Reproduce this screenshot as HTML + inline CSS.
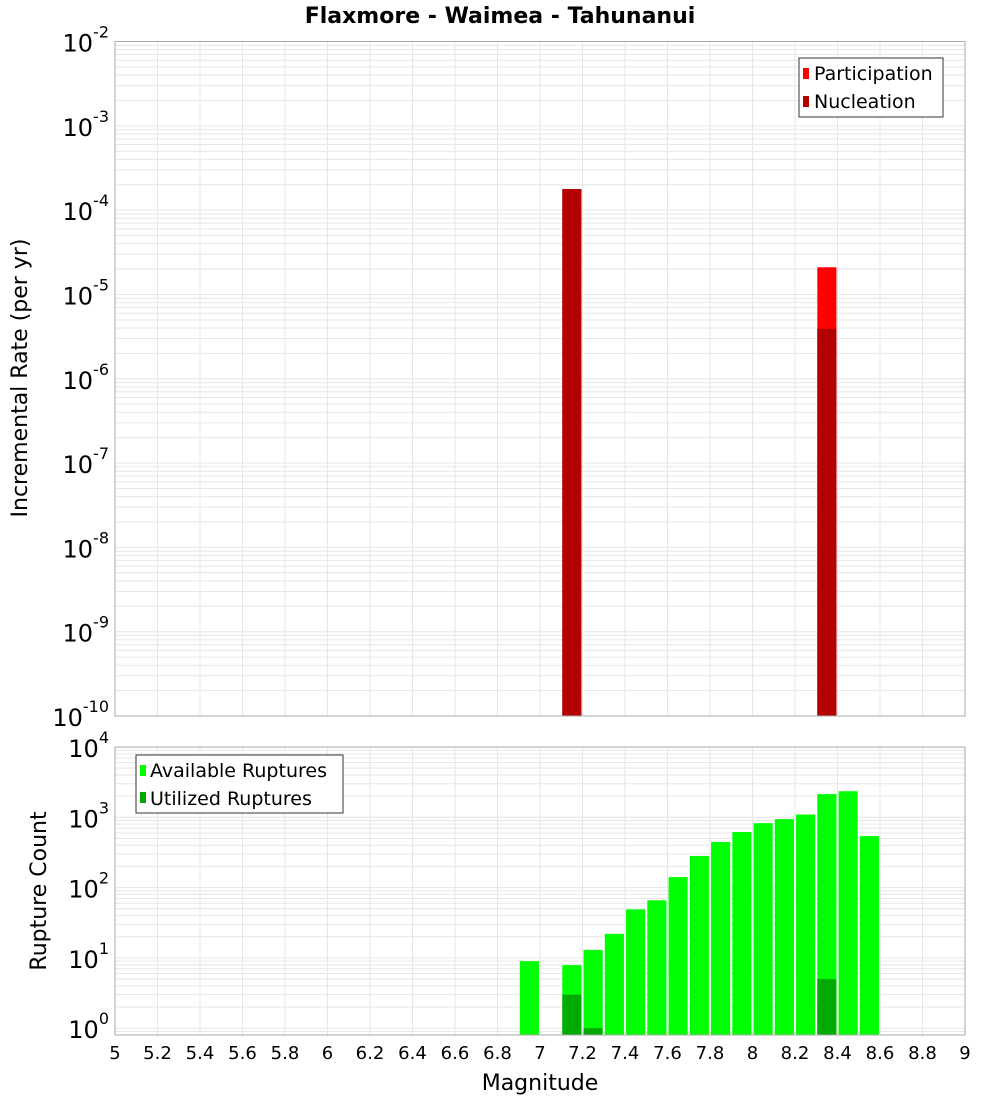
<!DOCTYPE html>
<html><head><meta charset="utf-8">
<style>
html,body{margin:0;padding:0;background:#fff;}
svg{display:block;font-family:"Liberation Sans","DejaVu Sans",sans-serif;}
</style></head>
<body>
<svg id="chart" width="1000" height="1100" xmlns="http://www.w3.org/2000/svg">
<text x="500" y="23" text-anchor="middle" font-size="22" font-weight="bold" font-family="DejaVu Sans, sans-serif">Flaxmore - Waimea - Tahunanui</text>
<g id="topPlot"></g>
<g id="botPlot"></g>
<text transform="translate(27,378) rotate(-90)" text-anchor="middle" font-size="22" font-family="DejaVu Sans, sans-serif">Incremental Rate (per yr)</text>
<text transform="translate(46,891) rotate(-90)" text-anchor="middle" font-size="22" font-family="DejaVu Sans, sans-serif">Rupture Count</text>
<text x="540" y="1090" text-anchor="middle" font-size="22" font-family="DejaVu Sans, sans-serif">Magnitude</text>
<g>
<rect x="799" y="58" width="144" height="59" fill="#fff" stroke="#333" stroke-width="1"/>
<rect x="803" y="68" width="6" height="11" fill="#ff0000"/>
<text x="814" y="80" font-size="19" font-family="DejaVu Sans, sans-serif">Participation</text>
<rect x="803" y="96" width="6" height="11" fill="#b30000"/>
<text x="814" y="108" font-size="19" font-family="DejaVu Sans, sans-serif">Nucleation</text>
</g>
<g>
<rect x="136" y="755" width="207" height="58" fill="#fff" stroke="#333" stroke-width="1"/>
<rect x="140" y="765" width="6" height="11" fill="#00ff00"/>
<text x="150" y="777" font-size="19" font-family="DejaVu Sans, sans-serif">Available Ruptures</text>
<rect x="140" y="792" width="6" height="11" fill="#00aa00"/>
<text x="150" y="805" font-size="19" font-family="DejaVu Sans, sans-serif">Utilized Ruptures</text>
</g>
</svg>
<script>
const rateMags = [7.15, 8.35];
const participation = [1.78e-4, 2.1e-5];
const nucleation = [1.78e-4, 3.9e-6];
const countMags = [6.95,7.15,7.25,7.35,7.45,7.55,7.65,7.75,7.85,7.95,8.05,8.15,8.25,8.35,8.45,8.55];
const available = [9,7.9,13,22,49,66,141,282,445,617,826,944,1095,2140,2350,540];
const utilMags = [7.15,7.25,8.35];
const utilized = [3,1,5];
const xTicks = [5,5.2,5.4,5.6,5.8,6,6.2,6.4,6.6,6.8,7,7.2,7.4,7.6,7.8,8,8.2,8.4,8.6,8.8,9];
const rateExps = [-2,-3,-4,-5,-6,-7,-8,-9,-10];
const countExps = [0,1,2,3,4];

const NS="http://www.w3.org/2000/svg";
const X0=115,X1=965;
function xs(m){return X0+(m-5)/4*(X1-X0);}
const TP={top:41.5,bot:716,lo:-10,hi:-2};
const BP={top:747,bot:1035,lo:Math.log10(0.8),hi:4};
function ys(P,v){const l=Math.log10(v);return P.bot-(l-P.lo)/(P.hi-P.lo)*(P.bot-P.top);}
function mk(tag,at,parent){const e=document.createElementNS(NS,tag);for(const k in at)e.setAttribute(k,at[k]);parent.appendChild(e);return e;}
const bw=(X1-X0)*0.1/4*0.9;

function frame(P,g,exps,name){
  mk('rect',{x:X0,y:P.top,width:X1-X0,height:P.bot-P.top,fill:'#fff'},g);
  for(let e=Math.floor(P.lo);e<=P.hi;e++){
    for(let k=1;k<10;k++){
      const v=k*Math.pow(10,e);const l=Math.log10(v);
      if(l<P.lo-1e-9||l>P.hi+1e-9)continue;
      const y=ys(P,v);
      const ln=mk('line',{x1:X0,x2:X1,y1:y,y2:y,stroke:'#e6e6e6','stroke-width':1},g);
      
      
    }
  }
  xTicks.forEach(t=>{const x=xs(t);
    const ln=mk('line',{x1:x,x2:x,y1:P.top,y2:P.bot,stroke:'#e6e6e6','stroke-width':1},g);
    
    
  });
  exps.forEach(e=>{
    const y=ys(P,Math.pow(10,e));
    const t=mk('text',{x:X0-6,y:y+10,'text-anchor':'end','font-size':24,'font-family':'DejaVu Sans, sans-serif'},g);
    
    
    const a=document.createElementNS(NS,'tspan');a.textContent='10';t.appendChild(a);
    const b=document.createElementNS(NS,'tspan');b.setAttribute('dy','-14');b.setAttribute('font-size','16');b.textContent=String(e);t.appendChild(b);
  });
}
function border(P,g){mk('rect',{x:X0,y:P.top,width:X1-X0,height:P.bot-P.top,fill:'none',stroke:'#aaa','stroke-width':1},g);}

const topG=document.getElementById('topPlot'),botG=document.getElementById('botPlot');
frame(TP,topG,rateExps,'rate');
rateMags.forEach((m,i)=>{
  const x=xs(m)-bw/2;
  let y=ys(TP,participation[i]);
  const r=mk('rect',{x:x,y:y,width:bw,height:TP.bot-y,fill:'#ff0000'},topG);
  
  
  y=ys(TP,nucleation[i]);
  const r2=mk('rect',{x:x,y:y,width:bw,height:TP.bot-y,fill:'#b30000'},topG);
  
  
});
border(TP,topG);

frame(BP,botG,countExps,'count');
countMags.forEach((m,i)=>{
  const x=xs(m)-bw/2;const y=ys(BP,available[i]);
  const r=mk('rect',{x:x,y:y,width:bw,height:BP.bot-y,fill:'#00ff00'},botG);
  
  
});
utilMags.forEach((m,i)=>{
  const x=xs(m)-bw/2;const y=ys(BP,utilized[i]);
  const r=mk('rect',{x:x,y:y,width:bw,height:BP.bot-y,fill:'#00aa00'},botG);
  
  
});
border(BP,botG);
xTicks.forEach(t=>{
  const tx=mk('text',{x:xs(t),y:1059,'text-anchor':'middle','font-size':18,'font-family':'DejaVu Sans, sans-serif'},botG);
  
  
  tx.textContent=String(t);
});
</script>
</body></html>
